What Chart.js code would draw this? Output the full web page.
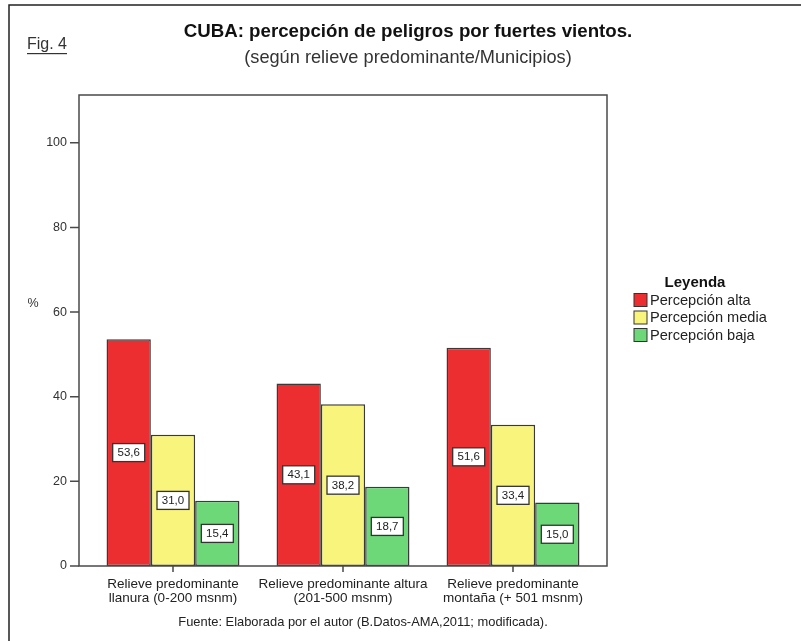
<!DOCTYPE html>
<html>
<head>
<meta charset="utf-8">
<script src="https://cdn.jsdelivr.net/npm/chart.js@4"></script>
<style>
  html, body { margin: 0; padding: 0; background: #ffffff; }
  #wrap { width: 801px; height: 641px; }
</style>
</head>
<body>
<div id="wrap"><canvas id="c" width="801" height="641"></canvas></div>
<script>
// Categories (relief type), two-line labels
const categories = [
  ["Relieve predominante", "llanura (0-200 msnm)"],
  ["Relieve predominante altura", "(201-500 msnm)"],
  ["Relieve predominante", "montaña (+ 501 msnm)"]
];
// Percentages per perception level
const percepcionAlta  = [53.6, 43.1, 51.6];
const percepcionMedia = [31.0, 38.2, 33.4];
const percepcionBaja  = [15.4, 18.7, 15.0];
const seriesNames = ["Percepción alta", "Percepción media", "Percepción baja"];

const FONT = '"Liberation Sans", Arial, sans-serif';
const FRAME_INSET = 9; // plot frame extends a little beyond the category band

function fmt(v) { return v.toFixed(1).replace('.', ','); }

// Frame, tick marks, value boxes, titles, legend and footnote
const decorations = {
  id: 'decorations',
  afterDatasetsDraw(chart) {
    const ctx = chart.ctx;
    const a = chart.chartArea;
    const xs = chart.scales.x, ys = chart.scales.y;
    ctx.save();

    // value boxes centred on each bar
    ctx.font = '11.5px ' + FONT;
    ctx.textAlign = 'center';
    ctx.textBaseline = 'middle';
    chart.data.datasets.forEach((ds, di) => {
      chart.getDatasetMeta(di).data.forEach((bar, i) => {
        const cx = bar.x, cy = (bar.y + bar.base) / 2;
        const w = 32, h = 18;
        ctx.fillStyle = '#ffffff';
        ctx.fillRect(cx - w / 2, cy - h / 2, w, h);
        ctx.strokeStyle = '#333333';
        ctx.lineWidth = 1.3;
        ctx.strokeRect(cx - w / 2, cy - h / 2, w, h);
        ctx.fillStyle = '#222222';
        ctx.fillText(fmt(ds.data[i]), cx, cy + 0.5);
      });
    });

    // plot frame
    const fl = a.left - FRAME_INSET, fr = a.right + FRAME_INSET;
    ctx.strokeStyle = '#4a4a4a';
    ctx.lineWidth = 1.5;
    ctx.strokeRect(fl, a.top, fr - fl, a.bottom - a.top);

    // y tick marks
    ctx.beginPath();
    ys.ticks.forEach(t => {
      const py = ys.getPixelForValue(t.value);
      ctx.moveTo(fl - 9, py);
      ctx.lineTo(fl, py);
    });
    // x tick marks
    categories.forEach((c, i) => {
      const px = xs.getPixelForValue(i);
      ctx.moveTo(px, a.bottom);
      ctx.lineTo(px, a.bottom + 6);
    });
    ctx.stroke();

    // outer figure border (top and left)
    ctx.strokeStyle = '#222222';
    ctx.lineWidth = 1.5;
    ctx.beginPath();
    ctx.moveTo(9, 641);
    ctx.lineTo(9, 5);
    ctx.lineTo(801, 5);
    ctx.stroke();

    // titles
    ctx.fillStyle = '#111111';
    ctx.textAlign = 'center';
    ctx.font = 'bold 18.7px ' + FONT;
    ctx.fillText('CUBA: percepción de peligros por fuertes vientos.', 408, 32);
    ctx.fillStyle = '#333333';
    ctx.font = '18.2px ' + FONT;
    ctx.fillText('(según relieve predominante/Municipios)', 408, 58);

    // figure number, underlined
    ctx.textAlign = 'left';
    ctx.font = '16px ' + FONT;
    ctx.fillStyle = '#333333';
    const fw = ctx.measureText('Fig. 4').width;
    ctx.fillText('Fig. 4', 27, 45);
    ctx.fillRect(27, 53, fw, 1.2);

    // y-axis unit
    ctx.font = '12.5px ' + FONT;
    ctx.fillStyle = '#333333';
    ctx.textAlign = 'center';
    ctx.fillText('%', 33, 304);

    // legend
    ctx.font = 'bold 15px ' + FONT;
    ctx.fillStyle = '#111111';
    ctx.fillText('Leyenda', 695, 283);
    ctx.font = '14.6px ' + FONT;
    ctx.textAlign = 'left';
    chart.data.datasets.forEach((ds, i) => {
      const ry = 300 + i * 17.5;
      ctx.fillStyle = ds.backgroundColor;
      ctx.fillRect(634, ry - 6.5, 13, 13);
      ctx.strokeStyle = '#333333';
      ctx.lineWidth = 1;
      ctx.strokeRect(634, ry - 6.5, 13, 13);
      ctx.fillStyle = '#222222';
      ctx.fillText(ds.label, 650, ry + 0.5);
    });

    // source note
    ctx.textAlign = 'center';
    ctx.font = '12.9px ' + FONT;
    ctx.fillStyle = '#222222';
    ctx.fillText('Fuente: Elaborada por el autor (B.Datos-AMA,2011; modificada).', 363, 622);

    ctx.restore();
  }
};

const barStyle = { borderColor: '#3a3a3a', borderWidth: 1.5, borderSkipped: false };

new Chart(document.getElementById('c'), {
  type: 'bar',
  data: {
    labels: categories,
    datasets: [
      Object.assign({ label: seriesNames[0], data: percepcionAlta,  backgroundColor: '#ED2E30' }, barStyle),
      Object.assign({ label: seriesNames[1], data: percepcionMedia, backgroundColor: '#F9F47C' }, barStyle),
      Object.assign({ label: seriesNames[2], data: percepcionBaja,  backgroundColor: '#6CD878' }, barStyle)
    ]
  },
  options: {
    responsive: false,
    animation: false,
    layout: { padding: { left: 0, top: 95, right: 203, bottom: 0 } },
    datasets: { bar: { categoryPercentage: 0.782, barPercentage: 1.0 } },
    plugins: { legend: { display: false }, title: { display: false }, tooltip: { enabled: false } },
    scales: {
      x: {
        type: 'category',
        offset: true,
        grid: { display: false },
        border: { display: false },
        ticks: {
          color: '#222222',
          font: { family: FONT, size: 13.5, lineHeight: 1.04 },
          padding: 3,
          maxRotation: 0,
          autoSkip: false
        },
        afterFit(scale) { scale.height = 75; }
      },
      y: {
        min: 0,
        max: 111.3,
        grid: { display: false },
        border: { display: false },
        ticks: {
          stepSize: 20,
          includeBounds: false,
          color: '#333333',
          font: { family: FONT, size: 12.5 },
          padding: 13
        },
        afterFit(scale) { scale.width = 88; }
      }
    }
  },
  plugins: [decorations]
});
</script>
</body>
</html>
